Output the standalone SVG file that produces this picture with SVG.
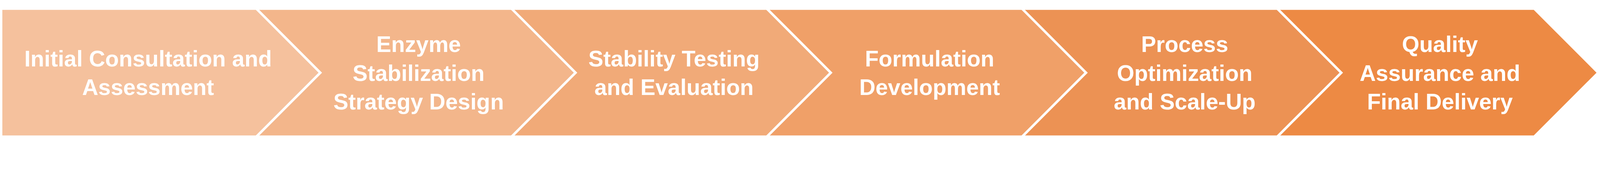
<svg xmlns="http://www.w3.org/2000/svg" width="4858" height="440" viewBox="0 0 4858 440" style="max-width:100%;height:auto">
  <style>
    .lbl { font-family: "Liberation Sans", Arial, sans-serif; font-weight: bold; font-size: 68px; fill: #FFFFFF; text-anchor: middle; }
    .sep { fill: none; stroke: #FFFFFF; stroke-width: 7.5; stroke-linejoin: miter; stroke-miterlimit: 10; }
  </style>
  <rect width="4858" height="440" fill="#FFFFFF"/>
  <g id="step1">
    <polygon points="7,30 782,30 972.5,220.5 782,411 7,411" fill="#F5C19D"/>
    <text class="lbl" x="449.5" y="201.6">Initial Consultation and</text>
    <text class="lbl" x="449.5" y="288.4">Assessment</text>
  </g>
  <g id="step2">
    <polygon points="782,30 1557,30 1747.5,220.5 1557,411 782,411 972.5,220.5" fill="#F3B68B"/>
    <text class="lbl" x="1271" y="158">Enzyme</text>
    <text class="lbl" x="1271" y="245">Stabilization</text>
    <text class="lbl" x="1271" y="332">Strategy Design</text>
  </g>
  <g id="step3">
    <polygon points="1557,30 2332,30 2522.5,220.5 2332,411 1557,411 1747.5,220.5" fill="#F1AA78"/>
    <text class="lbl" x="2046.5" y="201.6">Stability Testing</text>
    <text class="lbl" x="2046.5" y="288.4">and Evaluation</text>
  </g>
  <g id="step4">
    <polygon points="2332,30 3107,30 3297.5,220.5 3107,411 2332,411 2522.5,220.5" fill="#F0A068"/>
    <text class="lbl" x="2822.5" y="201.6">Formulation</text>
    <text class="lbl" x="2822.5" y="288.4">Development</text>
  </g>
  <g id="step5">
    <polygon points="3107,30 3882,30 4072.5,220.5 3882,411 3107,411 3297.5,220.5" fill="#EC9254"/>
    <text class="lbl" x="3597" y="158">Process</text>
    <text class="lbl" x="3597" y="245">Optimization</text>
    <text class="lbl" x="3597" y="332">and Scale-Up</text>
  </g>
  <g id="step6">
    <polygon points="3882,30 4657,30 4847.5,220.5 4657,411 3882,411 4072.5,220.5" fill="#ED8A44"/>
    <text class="lbl" x="4372" y="158">Quality</text>
    <text class="lbl" x="4372" y="245">Assurance and</text>
    <text class="lbl" x="4372" y="332">Final Delivery</text>
  </g>
  <g id="separators">
    <polyline class="sep" points="772,20 972.5,220.5 772,421"/>
    <polyline class="sep" points="1547,20 1747.5,220.5 1547,421"/>
    <polyline class="sep" points="2322,20 2522.5,220.5 2322,421"/>
    <polyline class="sep" points="3097,20 3297.5,220.5 3097,421"/>
    <polyline class="sep" points="3872,20 4072.5,220.5 3872,421"/>
  </g>
</svg>
